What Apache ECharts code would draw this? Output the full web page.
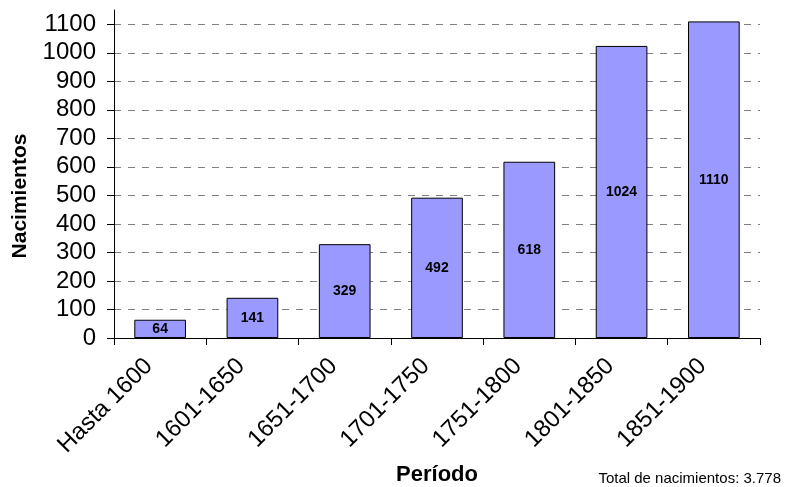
<!DOCTYPE html>
<html><head><meta charset="utf-8">
<script src="https://cdn.jsdelivr.net/npm/echarts@6/dist/echarts.min.js"></script>
<style>html,body{margin:0;padding:0;background:#fff}#c{width:804px;height:487px}</style>
</head><body><div id="c"></div>
<script>
const categories = ['Hasta 1600','1601-1650','1651-1700','1701-1750','1751-1800','1801-1850','1851-1900'];
const births = [64,141,329,492,618,1024,1110];
const yTicks = [0,100,200,300,400,500,600,700,800,900,1000,1100];
const totalText = 'Total de nacimientos: 3.778';

const chart = echarts.init(document.getElementById('c'));
const F = 'Arial, "Liberation Sans", sans-serif';
chart.setOption({
  animation:false,
  textStyle:{fontFamily:F},
  title:{text:totalText,right:18,top:466,textStyle:{fontSize:15,fontWeight:'normal',color:'#000',fontFamily:F}},
  grid:{left:114,right:44,top:10,bottom:149,containLabel:false,outerBoundsMode:'none'},
  xAxis:{type:'category',data:categories,
    name:'Período',nameLocation:'middle',nameGap:126,nameMoveOverlap:false,
    nameTextStyle:{fontSize:22,fontWeight:'bold',color:'#000',fontFamily:F},
    axisLine:{lineStyle:{color:'#000',width:1}},
    axisTick:{show:true,alignWithLabel:false,length:7,lineStyle:{color:'#000'}},
    axisLabel:{rotate:45,fontSize:24,color:'#000',margin:13,padding:[0,16,0,0],fontFamily:F,interval:0},
    splitLine:{show:false}},
  yAxis:{type:'value',min:0,max:1150,interval:100,
    name:'Nacimientos',nameLocation:'middle',nameGap:83,nameRotate:90,nameMoveOverlap:false,
    nameTextStyle:{fontSize:21,fontWeight:'bold',color:'#000',fontFamily:F,padding:[0,44,0,0]},
    axisLine:{show:true,lineStyle:{color:'#000',width:1}},
    axisTick:{show:true,length:7,customValues:yTicks,lineStyle:{color:'#000'}},
    axisLabel:{fontSize:24,color:'#000',margin:18,fontFamily:F,customValues:yTicks,formatter:v=>String(v)},
    splitLine:{show:true,lineStyle:{color:'#808080',type:[7,7],width:1}}},
  series:[{type:'bar',data:births,barWidth:'56%',
    itemStyle:{color:'#9999FF',borderColor:'#000',borderWidth:1},
    label:{show:true,position:'inside',fontSize:14,fontWeight:'bold',color:'#000',fontFamily:F}}]
});
</script></body></html>
